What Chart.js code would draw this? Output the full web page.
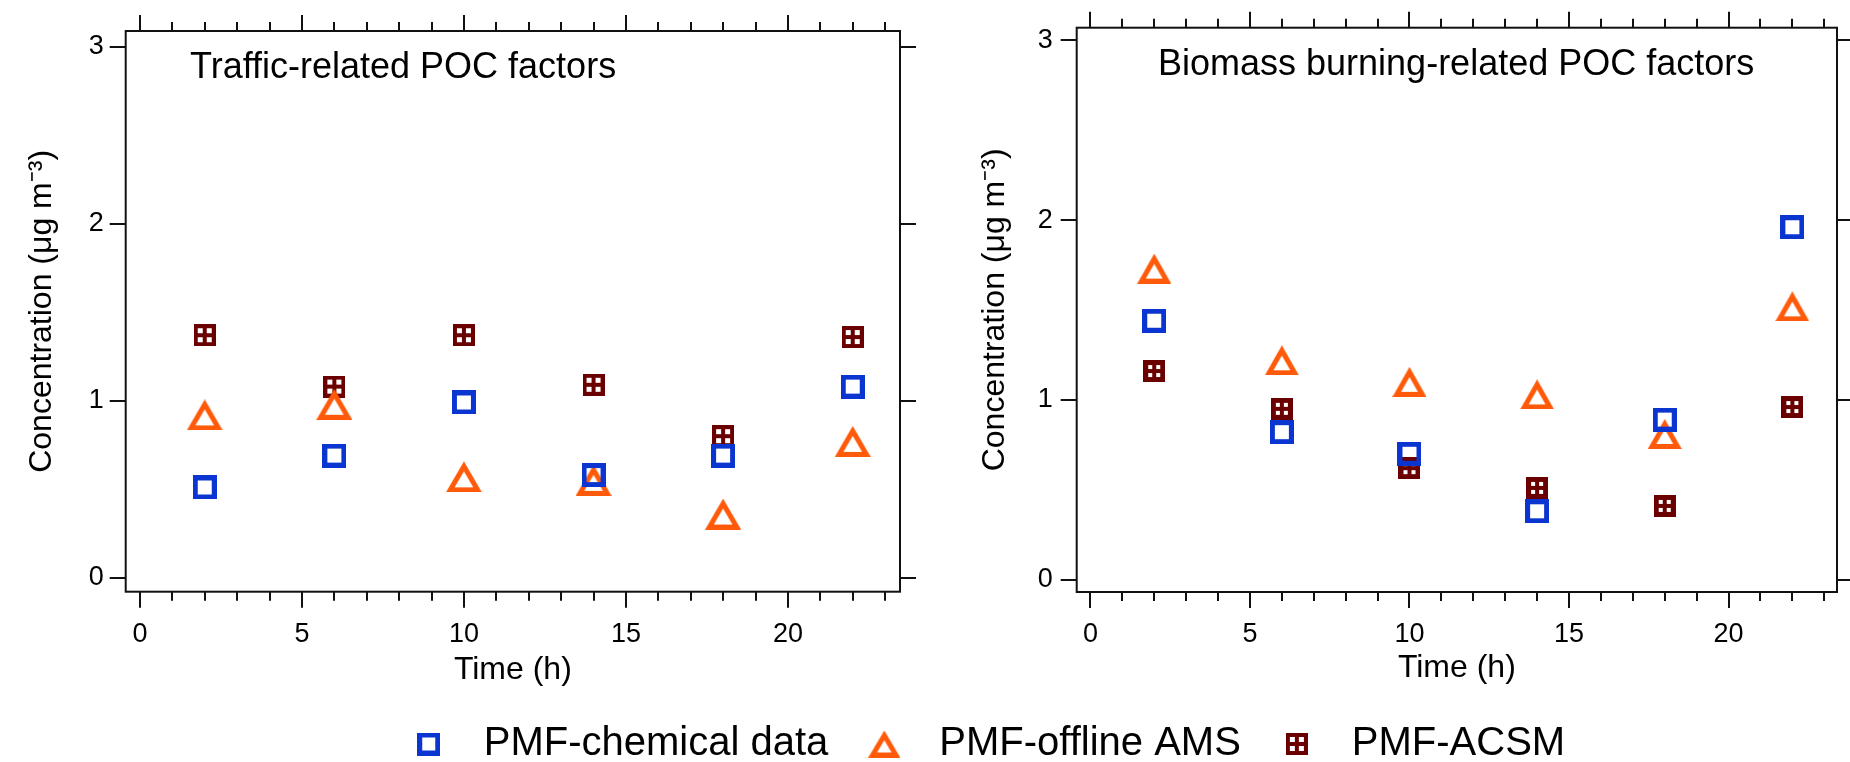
<!DOCTYPE html>
<html><head><meta charset="utf-8">
<script src="https://cdn.jsdelivr.net/npm/chart.js@4.4.0/dist/chart.umd.min.js"></script>
<style>
html,body{margin:0;padding:0;background:#fff;overflow:hidden;width:1850px;height:762px;}
.layer{position:absolute;left:0;top:0;width:1850px;height:762px;}
</style></head><body>
<div class="layer"><canvas id="left" width="1850" height="762"></canvas></div>
<div class="layer"><canvas id="right" width="1850" height="762"></canvas></div>
<script>
// ---------------- data ----------------
const hours = [2, 6, 10, 14, 18, 22];
const seriesNames = ['PMF-chemical data', 'PMF-offline AMS', 'PMF-ACSM'];
const trafficChemical   = [0.51, 0.69, 0.99, 0.58, 0.69, 1.08];
const trafficOfflineAMS = [0.92, 0.98, 0.57, 0.55, 0.36, 0.77];
const trafficACSM       = [1.37, 1.08, 1.37, 1.09, 0.80, 1.36];
const biomassChemical   = [1.44, 0.82, 0.70, 0.38, 0.89, 1.96];
const biomassOfflineAMS = [1.73, 1.22, 1.10, 1.03, 0.81, 1.52];
const biomassACSM       = [1.16, 0.95, 0.62, 0.51, 0.41, 0.96];
const xMajorTicks = [0, 5, 10, 15, 20];
const xMinorTicks = [0, 1, 2, 3, 4, 5, 6, 7, 8, 9, 10, 11, 12, 13, 14, 15, 16, 17, 18, 19, 20, 21, 22, 23];
const yTicks = [0, 1, 2, 3];
const panelTitles = ['Traffic-related POC factors', 'Biomass burning-related POC factors'];
const xTitle = 'Time (h)';
const yTitle = 'Concentration (\u03bcg m\u207b\u00b3)';

// ---------------- styles ----------------
const BLUE = '#0a35d0', ORANGE = '#ff5a0a', DARKRED = '#6b0000';
const FONT = '"Liberation Sans", Arial, sans-serif';
Chart.defaults.font.family = FONT;
Chart.defaults.color = '#000';

function squareMarker(color, size, border) {
  const c = document.createElement('canvas'); c.width = size; c.height = size;
  const g = c.getContext('2d');
  g.fillStyle = color; g.fillRect(0, 0, size, size);
  g.clearRect(border, border, size - 2 * border, size - 2 * border);
  return c;
}
function gridMarker(color, size, border, cell, bar) {
  const c = document.createElement('canvas'); c.width = size; c.height = size;
  const g = c.getContext('2d');
  g.fillStyle = color; g.fillRect(0, 0, size, size);
  g.fillStyle = '#ffffff';
  const p = [border, border + cell + bar];
  p.forEach(px => p.forEach(py => g.fillRect(px, py, cell, cell)));
  return c;
}
function triangleMarker(color, W, H, t) {
  const c = document.createElement('canvas'); c.width = W; c.height = H;
  const g = c.getContext('2d');
  g.fillStyle = color;
  g.beginPath(); g.moveTo(W / 2, 0); g.lineTo(W, H); g.lineTo(0, H); g.closePath(); g.fill();
  const L = Math.sqrt((W / 2) * (W / 2) + H * H);
  const s = (W + 2 * L) / 2;
  const r = (W * H / 2) / s;
  const iy = H - r, ix = W / 2;
  const k = (r - t) / r;
  g.globalCompositeOperation = 'destination-out';
  g.beginPath();
  g.moveTo(ix, iy + k * (0 - iy));
  g.lineTo(ix + k * (W - ix), iy + k * (H - iy));
  g.lineTo(ix + k * (0 - ix), iy + k * (H - iy));
  g.closePath(); g.fill();
  return c;
}

const leftMarkers = [squareMarker(BLUE, 24, 5), triangleMarker(ORANGE, 36, 31, 5), gridMarker(DARKRED, 22, 4, 5, 4)];
const rightMarkers = [squareMarker(BLUE, 24, 5), triangleMarker(ORANGE, 34, 30, 5), gridMarker(DARKRED, 22, 5, 4, 4)];
const legendMarkers = [squareMarker(BLUE, 23, 5), triangleMarker(ORANGE, 32, 27, 5), gridMarker(DARKRED, 22, 4, 5, 4)];

const framePlugin = {
  id: 'frame',
  afterDraw(chart, args, opts) {
    const {ctx, chartArea: a} = chart;
    const x = chart.scales.x, y = chart.scales.y;
    ctx.save();
    ctx.strokeStyle = '#111'; ctx.lineWidth = 2;
    ctx.strokeRect(a.left, a.top, a.right - a.left, a.bottom - a.top);
    ctx.beginPath();
    xMinorTicks.forEach(v => {
      const px = Math.round(x.getPixelForValue(v));
      const len = xMajorTicks.includes(v) ? 16 : 9;
      ctx.moveTo(px, a.bottom); ctx.lineTo(px, a.bottom + len);
      ctx.moveTo(px, a.top); ctx.lineTo(px, a.top - len);
    });
    yTicks.forEach(v => {
      const py = Math.round(y.getPixelForValue(v));
      ctx.moveTo(a.left, py); ctx.lineTo(a.left - 16, py);
      ctx.moveTo(a.right, py); ctx.lineTo(a.right + 16, py);
    });
    ctx.stroke();
    ctx.fillStyle = '#000';
    ctx.font = '36px ' + FONT;
    ctx.textBaseline = 'alphabetic';
    ctx.textAlign = 'left';
    ctx.fillText(opts.text, opts.tx, opts.ty);
    ctx.restore();
  }
};

function noPad(s) { s.paddingTop = 0; s.paddingBottom = 0; s.paddingLeft = 0; s.paddingRight = 0; }

function makeChart(id, title, chem, ams, acsm, markers, g) {
  const datasets = [
    {label: seriesNames[0], data: hours.map((h, i) => ({x: h, y: chem[i]})), pointStyle: markers[0]},
    {label: seriesNames[1], data: hours.map((h, i) => ({x: h, y: ams[i]})), pointStyle: markers[1]},
    {label: seriesNames[2], data: hours.map((h, i) => ({x: h, y: acsm[i]})), pointStyle: markers[2]}
  ].map(d => Object.assign(d, {showLine: false, pointRadius: 12, pointHoverRadius: 12, borderColor: 'rgba(0,0,0,0)', backgroundColor: 'rgba(0,0,0,0)'}));

  const scales = {
    x: {
      type: 'linear', position: 'bottom', min: g.xMin, max: g.xMax,
      afterBuildTicks: s => { s.ticks = xMajorTicks.map(v => ({value: v})); },
      afterFit: s => { s.height = g.xHeight; noPad(s); },
      grid: {display: false, drawTicks: false},
      border: {display: false},
      ticks: {font: {size: 27}, padding: g.xTickPad, maxRotation: 0, color: '#000'},
      title: {display: true, text: xTitle, font: {size: 32}, color: '#000', padding: {top: 0, bottom: g.xTitlePad}}
    },
    y: {
      type: 'linear', position: 'left', min: g.yMin, max: g.yMax,
      afterBuildTicks: s => { s.ticks = yTicks.map(v => ({value: v})); },
      afterFit: s => { s.width = g.yWidth; noPad(s); },
      grid: {display: false, drawTicks: false},
      border: {display: false},
      ticks: {font: {size: 27}, padding: g.yTickPad, color: '#000'},
      title: {display: true, text: yTitle, font: {size: 32}, color: '#000', padding: {top: g.yTitlePad, bottom: 0}}
    }
  };
  if (g.y2Width) {
    scales.y2 = {
      type: 'linear', position: 'right', min: 0, max: 1,
      afterFit: s => { s.width = g.y2Width; noPad(s); },
      grid: {display: false, drawTicks: false}, border: {display: false},
      ticks: {display: false}
    };
  }
  return new Chart(document.getElementById(id), {
    type: 'scatter',
    data: {datasets},
    options: {
      responsive: false, animation: false, devicePixelRatio: 1,
      events: [],
      layout: {padding: g.pad},
      scales,
      plugins: {
        tooltip: {enabled: false},
        frame: {text: title, tx: g.tx, ty: g.ty},
        legend: {
          display: g.legend, position: 'bottom', align: 'center',
          labels: {
            usePointStyle: true, pointStyleWidth: 70, padding: 21, color: '#000',
            font: {size: 40},
            generateLabels(chart) {
              const items = Chart.defaults.plugins.legend.labels.generateLabels(chart);
              items.forEach((it, i) => { it.pointStyle = legendMarkers[i]; });
              return items;
            }
          }
        }
      }
    },
    plugins: [framePlugin]
  });
}

makeChart('left', panelTitles[0], trafficChemical, trafficOfflineAMS, trafficACSM, leftMarkers, {
  pad: {top: 31, left: 0, right: 0, bottom: 0},
  yWidth: 125.7, y2Width: 950, xHeight: 170.3,
  xMin: -0.44, xMax: 23.46, yMin: -0.079, yMax: 3.089,
  yTitlePad: 23, yTickPad: 22, xTickPad: 26.7, xTitlePad: 72.8,
  tx: 190, ty: 78, legend: false
});
makeChart('right', panelTitles[1], biomassChemical, biomassOfflineAMS, biomassACSM, rightMarkers, {
  pad: {top: 27.7, left: 111.2, right: 2.3, bottom: -12},
  yWidth: 965.5, y2Width: null, xHeight: 111,
  xMin: -0.43, xMax: 23.40, yMin: -0.069, yMax: 3.070,
  yTitlePad: 864.6, yTickPad: 24, xTickPad: 26.7, xTitlePad: 16,
  tx: 1158, ty: 75, legend: true
});
</script>
</body></html>
